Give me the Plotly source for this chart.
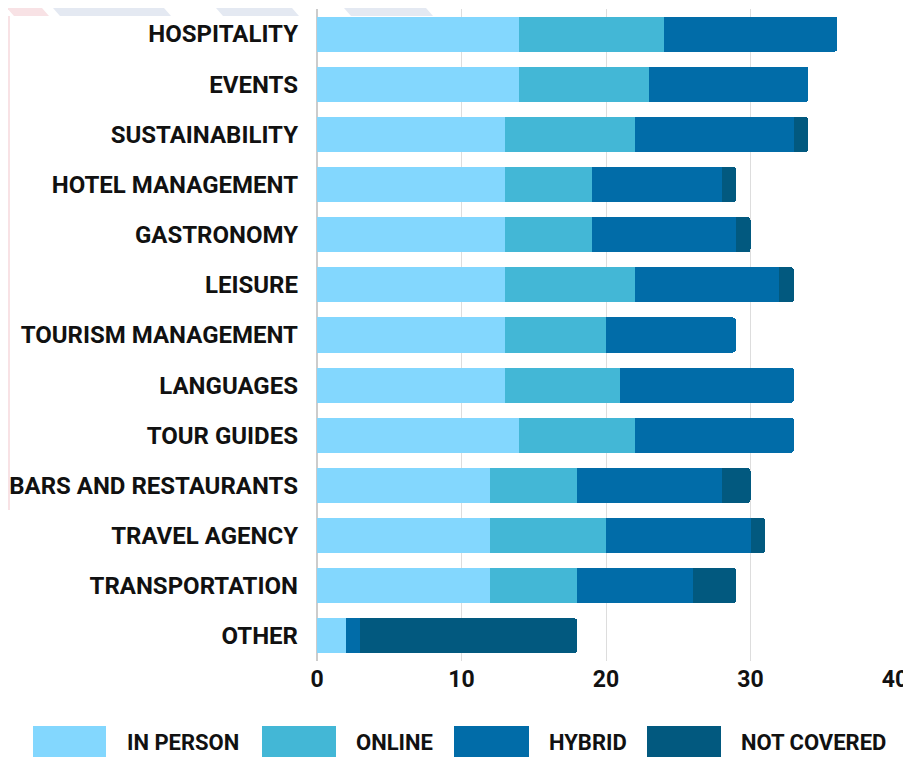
import plotly.graph_objects as go

# categories, top to bottom
areas = [
    "HOSPITALITY", "EVENTS", "SUSTAINABILITY", "HOTEL MANAGEMENT", "GASTRONOMY",
    "LEISURE", "TOURISM MANAGEMENT", "LANGUAGES", "TOUR GUIDES",
    "BARS AND RESTAURANTS", "TRAVEL AGENCY", "TRANSPORTATION", "OTHER",
]
in_person = [14, 14, 13, 13, 13, 13, 13, 13, 14, 12, 12, 12, 2]
online = [10, 9, 9, 6, 6, 9, 7, 8, 8, 6, 8, 6, 0]
hybrid = [12, 11, 11, 9, 10, 10, 9, 12, 11, 10, 10, 8, 1]
not_covered = [0, 0, 1, 1, 1, 1, 0, 0, 0, 2, 1, 3, 15]

series_names = ["IN PERSON", "ONLINE", "HYBRID", "NOT COVERED"]
series_colors = ["#83D7FE", "#43B7D6", "#016CA8", "#02597F"]
x_ticks = [0, 10, 20, 30, 40]

# page body has an 8px margin, so the figure is sized to fill the rest of the window
OFF = 8
W_FIG, H_FIG = 911 - OFF, 757 - OFF
PLOT_L, PLOT_R, PLOT_T, PLOT_B = 317, 895, 9, 661  # in screen pixels
PW = PLOT_R - PLOT_L
PH = PLOT_B - PLOT_T


def px_x(p):
    return (p - PLOT_L) / PW


def px_y(p):
    return (PLOT_B - p) / PH


fig = go.Figure()

for name, vals, color in zip(series_names, [in_person, online, hybrid, not_covered], series_colors):
    fig.add_trace(go.Bar(
        y=areas, x=vals, name=name, orientation="h",
        marker=dict(color=color, line=dict(width=0)),
        showlegend=False,
        hovertemplate="%{y}<br>" + name + ": %{x}<extra></extra>",
    ))

# faint slide watermark behind the white panel
shapes = [
    dict(type="rect", xref="paper", yref="paper", x0=px_x(OFF), x1=px_x(10), y0=px_y(510), y1=px_y(16),
         fillcolor="#f8e2e5", line=dict(width=0), layer="below"),
]
for a, b in [(0, 35), (46, 157), (209, 285), (337, 419)]:
    col = "#f8e2e5" if a == 0 else "#e4e9f2"
    shapes.append(dict(
        type="path", xref="paper", yref="paper",
        path=f"M {px_x(a)},{px_y(0)} L {px_x(b)},{px_y(0)} L {px_x(b + 14)},{px_y(16)} L {px_x(a + 14)},{px_y(16)} Z",
        fillcolor=col, line=dict(width=0), layer="below",
    ))

# legend swatches drawn by hand (wide blocks)
legend_pos = [(33, 106, 125), (262, 336, 354), (454, 529, 547), (647, 721, 739)]
annotations = []
for (s0, s1, tx), name, color in zip(legend_pos, series_names, series_colors):
    shapes.append(dict(type="rect", xref="paper", yref="paper",
                       x0=px_x(s0), x1=px_x(s1), y0=px_y(762), y1=px_y(726),
                       fillcolor=color, line=dict(width=0)))
    annotations.append(dict(xref="paper", yref="paper", x=px_x(tx), y=px_y(742),
                            text=name, showarrow=False, xanchor="left", yanchor="middle",
                            font=dict(family="Roboto", size=22, color="#111111", weight="bold")))

fig.update_layout(
    width=W_FIG, height=H_FIG,
    margin=dict(l=PLOT_L - OFF, r=911 - PLOT_R, t=PLOT_T - OFF, b=757 - PLOT_B),
    barmode="stack",
    bargap=0.3,
    barcornerradius=3,
    paper_bgcolor="white",
    plot_bgcolor="rgba(0,0,0,0)",
    font=dict(family="Roboto", color="#111111"),
    shapes=shapes,
    annotations=annotations,
)

fig.update_xaxes(
    range=[0, 40], tickvals=x_ticks, showgrid=True, gridcolor="#dddddd", gridwidth=1,
    zeroline=True, zerolinecolor="#cccccc", zerolinewidth=1.5,
    tickfont=dict(family="Roboto", size=23, color="#111111", weight="bold"),
    ticklabelstandoff=2,
)
fig.update_yaxes(
    categoryorder="array", categoryarray=areas, autorange="reversed",
    showgrid=False,
    tickfont=dict(family="Roboto", size=24, color="#111111", weight="bold"),
    ticklabelstandoff=18,
)

fig.write_html("out.html")
